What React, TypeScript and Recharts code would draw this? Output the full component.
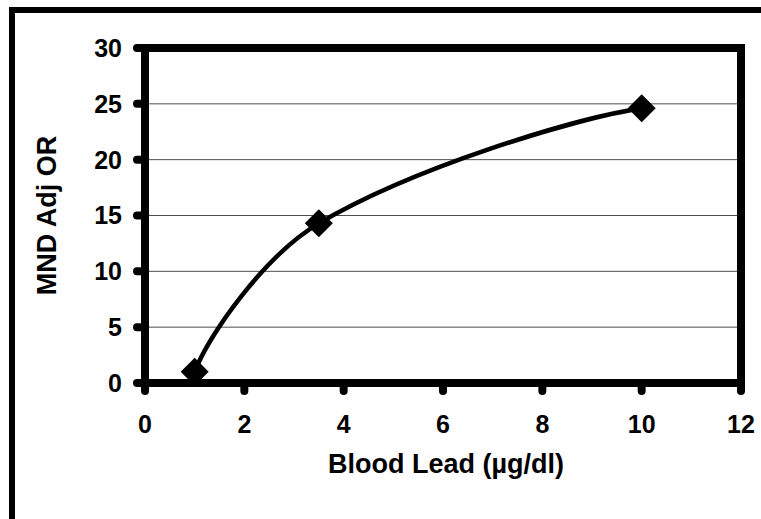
import React from 'react';
import { LineChart, Line, XAxis, YAxis, CartesianGrid, ReferenceLine } from 'recharts';

const leadLevels = [1, 3.5, 10];
const adjustedOR = [1.0, 14.3, 24.6];
const xTicks = [0, 2, 4, 6, 8, 10, 12];
const yTicks = [0, 5, 10, 15, 20, 25, 30];

const data = leadLevels.map((x, i) => ({ x, y: adjustedOR[i] }));

const FONT = '"Liberation Sans", Arial, sans-serif';
const tickStyle = { fontFamily: FONT, fontSize: 25, fontWeight: 'bold', fill: '#000' };
const axisLine = { stroke: '#000', strokeWidth: 8, strokeLinecap: 'square' as const };
const tickLine = { stroke: '#000', strokeWidth: 8, strokeLinecap: 'round' as const };

// Excel-like smoothed line: Bezier segments, interior tangents along the
// neighbour chord (weighted by segment length), end tangents mirrored.
const excelSmooth = (context: any) => {
  let pts: number[][] = [];
  return {
    areaStart() {},
    areaEnd() {},
    lineStart() {
      pts = [];
    },
    point(x: number, y: number) {
      pts.push([+x, +y]);
    },
    lineEnd() {
      const n = pts.length;
      if (!n) return;
      context.moveTo(pts[0][0], pts[0][1]);
      if (n < 3) {
        for (let i = 1; i < n; i++) context.lineTo(pts[i][0], pts[i][1]);
        return;
      }
      const dist = (a: number[], b: number[]) => Math.hypot(b[0] - a[0], b[1] - a[1]);
      const seg = pts.slice(1).map((p, i) => dist(pts[i], p));
      const outC: number[][] = [];
      const inC: number[][] = [];
      for (let i = 1; i < n - 1; i++) {
        const vx = pts[i + 1][0] - pts[i - 1][0];
        const vy = pts[i + 1][1] - pts[i - 1][1];
        const sum = seg[i - 1] + seg[i];
        inC[i] = [pts[i][0] - (vx * seg[i - 1]) / sum / 3, pts[i][1] - (vy * seg[i - 1]) / sum / 3];
        outC[i] = [pts[i][0] + (vx * seg[i]) / sum / 3, pts[i][1] + (vy * seg[i]) / sum / 3];
      }
      const mirror = (end: number[], other: number[], ctrl: number[], len: number) => {
        const cx = other[0] - end[0];
        const cy = other[1] - end[1];
        const cl = Math.hypot(cx, cy) || 1;
        const ux = cx / cl;
        const uy = cy / cl;
        let tx = ctrl[0] - other[0];
        let ty = ctrl[1] - other[1];
        const tl = Math.hypot(tx, ty) || 1;
        tx /= tl;
        ty /= tl;
        // reflect the neighbour tangent about the end chord
        const d = tx * ux + ty * uy;
        const rx = 2 * d * ux - tx;
        const ry = 2 * d * uy - ty;
        return [end[0] - rx * len, end[1] - ry * len];
      };
      outC[0] = mirror(pts[0], pts[1], inC[1], seg[0] * 0.2);
      inC[n - 1] = mirror(pts[n - 1], pts[n - 2], outC[n - 2], seg[n - 2] * 0.2);
      for (let i = 0; i < n - 1; i++) {
        context.bezierCurveTo(outC[i][0], outC[i][1], inC[i + 1][0], inC[i + 1][1], pts[i + 1][0], pts[i + 1][1]);
      }
    },
  };
};

const Diamond = (props: any) => {
  const { cx, cy, index } = props;
  if (cx == null || cy == null) return null;
  const r = 14;
  return (
    <polygon
      key={`d-${index}`}
      points={`${cx},${cy - r} ${cx + r},${cy} ${cx},${cy + r} ${cx - r},${cy}`}
      fill="#000"
    />
  );
};

const App: React.FC = () => {
  return (
    <div
      style={{
        position: 'fixed',
        top: 0,
        left: 0,
        width: 761,
        height: 519,
        background: '#fff',
        overflow: 'hidden',
      }}
    >
      {/* outer frame, only left and top edges are in view */}
      <div
        style={{
          position: 'absolute',
          left: 9,
          top: 7,
          width: 800,
          height: 600,
          borderLeft: '6px solid #000',
          borderTop: '6px solid #000',
        }}
      />
      <div style={{ position: 'absolute', left: 0, top: 0 }}>
        <LineChart width={761} height={519} data={data} margin={{ top: 48, right: 20, left: 30, bottom: 41 }}>
          <CartesianGrid vertical={false} stroke="#4d4d4d" strokeWidth={1} />
          <XAxis
            type="number"
            dataKey="x"
            domain={[0, 12]}
            ticks={xTicks}
            height={95}
            axisLine={axisLine}
            tickLine={tickLine}
            tickSize={8}
            tickMargin={24}
            tick={tickStyle}
            label={{
              value: 'Blood Lead (µg/dl)',
              position: 'insideBottom',
              offset: 5,
              dx: 3,
              style: { fontFamily: FONT, fontSize: 27, fontWeight: 'bold', fill: '#000' },
            }}
          />
          <YAxis
            type="number"
            domain={[0, 30]}
            ticks={yTicks}
            width={115}
            axisLine={axisLine}
            tickLine={tickLine}
            tickSize={8}
            tickMargin={15}
            tick={tickStyle}
            label={{
              value: 'MND Adj OR',
              angle: -90,
              position: 'insideLeft',
              offset: 16,
              style: { fontFamily: FONT, fontSize: 27, fontWeight: 'bold', fill: '#000', textAnchor: 'middle' },
            }}
          />
          <ReferenceLine y={30} stroke="#000" strokeWidth={8} strokeLinecap="square" />
          <ReferenceLine x={12} stroke="#000" strokeWidth={8} strokeLinecap="square" />
          <Line
            type={excelSmooth as any}
            dataKey="y"
            stroke="#000"
            strokeWidth={4.5}
            dot={<Diamond />}
            activeDot={false}
            isAnimationActive={false}
          />
        </LineChart>
      </div>
    </div>
  );
};

export default App;
